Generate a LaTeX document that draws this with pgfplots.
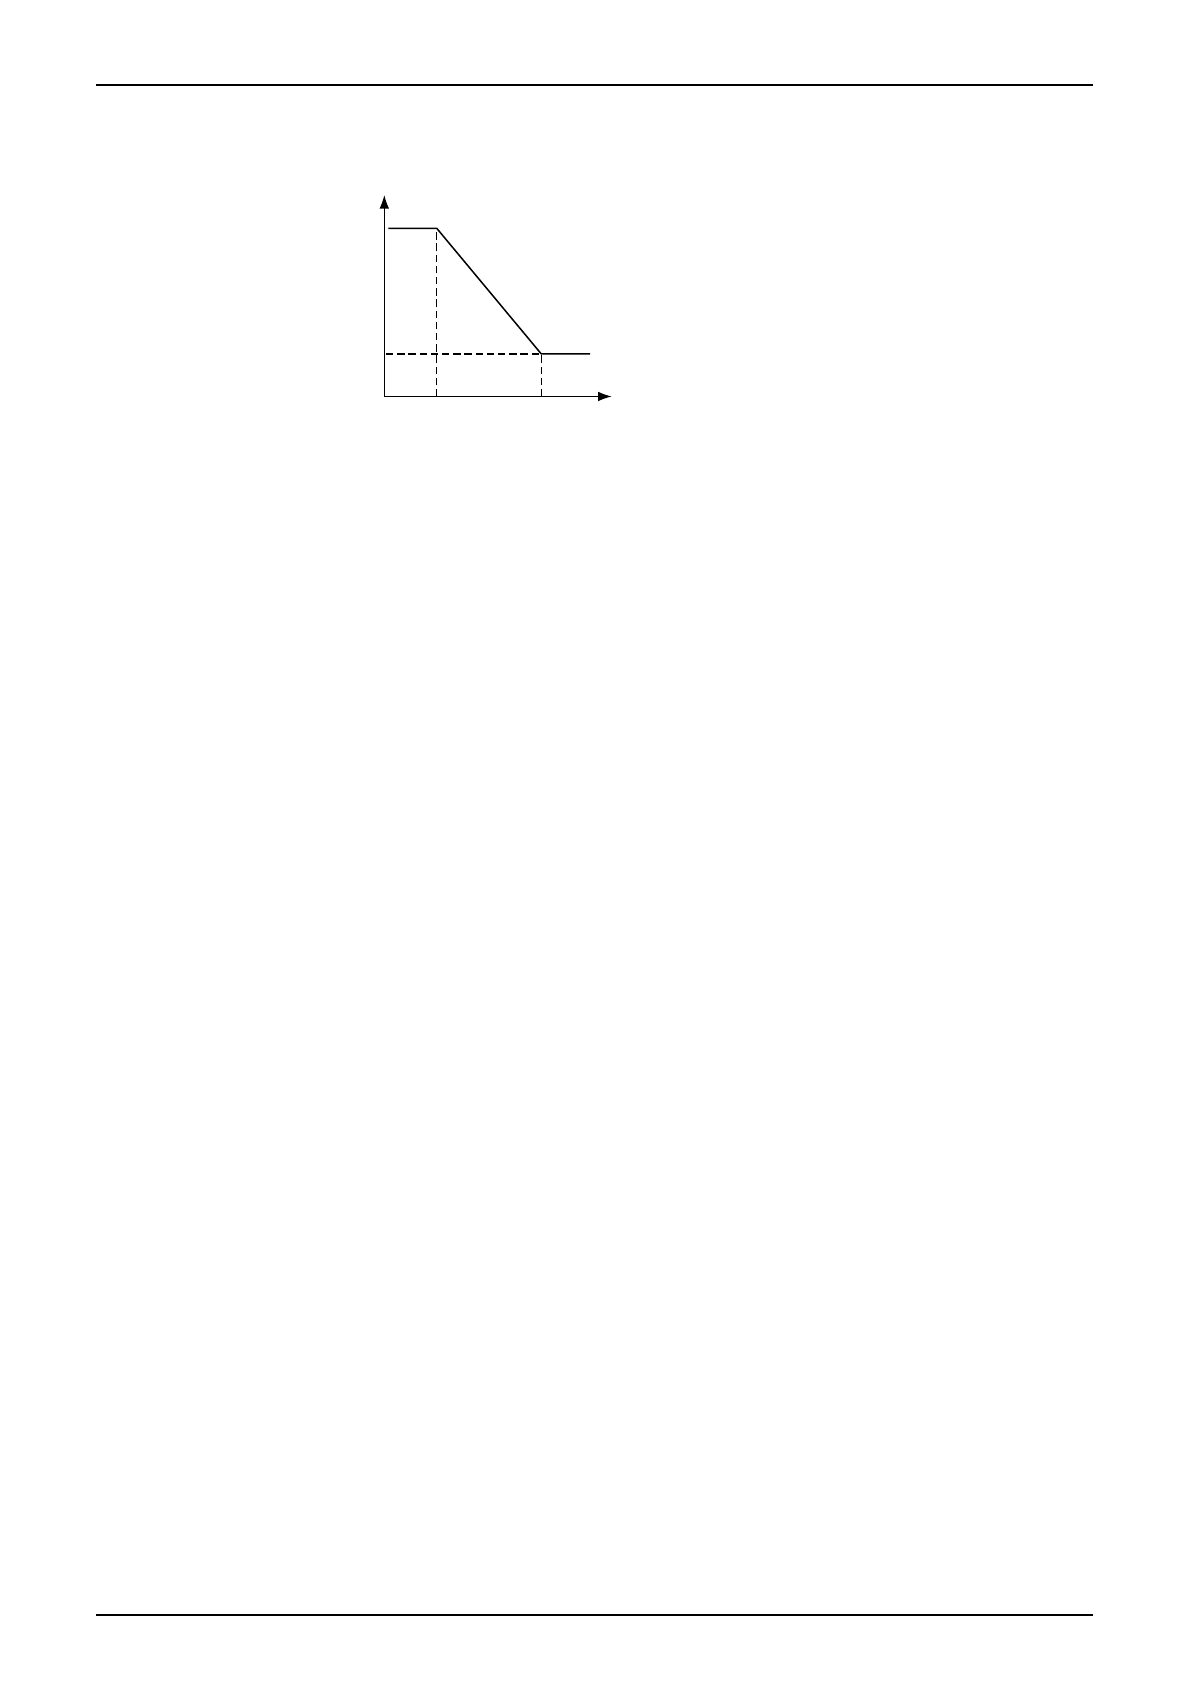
\documentclass[border=0pt]{standalone}
\usepackage{pgfplots}
\pgfplotsset{compat=1.18}
\usetikzlibrary{arrows.meta}

\begin{document}
\begin{tikzpicture}[x=1bp,y=1bp]
% page frame, A4 (1 px of the reference = 0.5 bp)
\path (0,0) rectangle (595,842);
% header and footer rules
\draw[line width=0.65bp] (48,799.5) -- (546.5,799.5);
\draw[line width=0.65bp] (48,34.5) -- (546.5,34.5);

\begin{axis}[
    at={(192.15bp,643.75bp)}, anchor=south west,
    scale only axis,
    width=113.7bp, height=100.75bp,
    xmin=0, xmax=227.4,
    ymin=0, ymax=201.5,
    axis lines=left,
    axis line style={line width=0.6bp, -{Latex[length=6.8bp,width=4.8bp]}},
    xtick=\empty, ytick=\empty,
    clip=false,
]
% characteristic curve
\addplot[black, line width=0.75bp] coordinates {(4,168.2) (52.4,168.2) (157,42.5) (205.7,42.5)};
% guide lines
\addplot[black, line width=0.55bp, dash pattern=on 3.7bp off 1.9bp] coordinates {(52.4,0) (52.4,168.2)};
\addplot[black, line width=0.55bp, dash pattern=on 3.7bp off 1.9bp] coordinates {(157,0) (157,42.5)};
\addplot[black, line width=0.55bp, dash pattern=on 3.7bp off 1.9bp] coordinates {(1.7,42.5) (157,42.5)};
\end{axis}
\end{tikzpicture}
\end{document}
